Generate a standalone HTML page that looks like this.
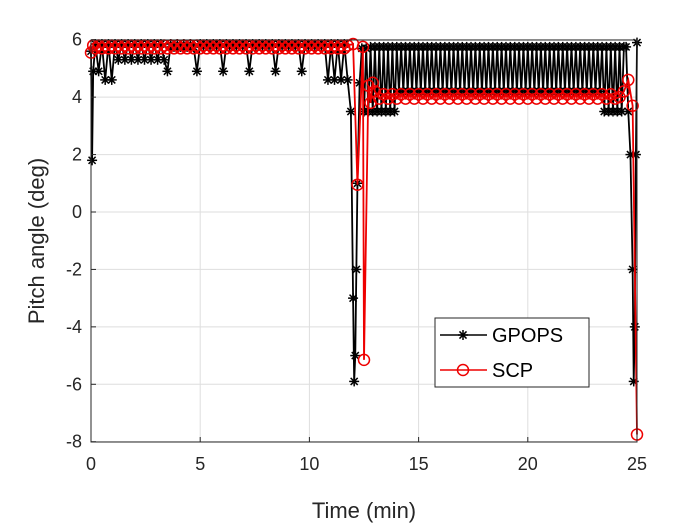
<!DOCTYPE html>
<html><head><meta charset="utf-8"><style>
html,body{margin:0;padding:0;background:#fff;}
svg text{font-family:"Liberation Sans",Arial,sans-serif;}
</style></head><body>
<svg id="chart" width="700" height="525" viewBox="0 0 700 525" xmlns="http://www.w3.org/2000/svg">
<rect width="700" height="525" fill="#fff"/>
<g id="grid"></g>
<g id="series"></g>
<rect x="91" y="40" width="546" height="402" fill="none" stroke="#262626" stroke-width="1"/>
<g id="ticks"></g>
<text x="364" y="518" font-size="22" text-anchor="middle" fill="#262626">Time (min)</text>
<text x="44" y="241" font-size="22" text-anchor="middle" fill="#262626" transform="rotate(-90 44 241)">Pitch angle (deg)</text>
<g>
<rect x="435" y="318" width="154" height="69" fill="#fff" stroke="#262626" stroke-width="1"/>
<g>
<line x1="440" y1="335" x2="487" y2="335" stroke="#000" stroke-width="1.5"/>
<g id="legmark1"></g>
<text x="492" y="342" font-size="20" fill="#000">GPOPS</text>
</g>
<g>
<line x1="440" y1="370" x2="487" y2="370" stroke="#e00" stroke-width="1.5"/>
<circle cx="463" cy="370" r="5.5" fill="none" stroke="#e00" stroke-width="1.5"/>
<text x="492" y="377" font-size="20" fill="#000">SCP</text>
</g>
</g>
</svg>
<script>
const xTicks=[0,5,10,15,20,25];
const yTicks=[-8,-6,-4,-2,0,2,4,6];
const gpopsT=[
0,0.05,0.1,0.2,0.35,0.5,0.65,0.8,0.95,1.1,
1.25,1.4,1.55,1.7,1.85,2.0,2.15,2.3,2.45,2.6,
2.75,2.9,3.05,3.2,3.35,3.5,3.65,3.8,3.95,4.1,
4.25,4.4,4.55,4.7,4.85,5.0,5.15,5.3,5.45,5.6,
5.75,5.9,6.05,6.2,6.35,6.5,6.65,6.8,6.95,7.1,
7.25,7.4,7.55,7.7,7.85,8.0,8.15,8.3,8.45,8.6,
8.75,8.9,9.05,9.2,9.35,9.5,9.65,9.8,9.95,10.1,
10.25,10.4,10.55,10.7,10.85,11.0,11.15,11.3,11.45,11.6,
11.75,
11.9,12.0,12.05,12.1,12.15,12.2,12.3,12.4,12.5,12.6,12.7,
12.8,12.9,13.0,13.1,13.2,13.3,13.4,13.5,13.6,13.7,
13.8,13.9,14.0,14.1,14.2,14.3,14.4,14.5,14.6,14.7,
14.8,14.9,15.0,15.1,15.2,15.3,15.4,15.5,15.6,15.7,
15.8,15.9,16.0,16.1,16.2,16.3,16.4,16.5,16.6,16.7,
16.8,16.9,17.0,17.1,17.2,17.3,17.4,17.5,17.6,17.7,
17.8,17.9,18.0,18.1,18.2,18.3,18.4,18.5,18.6,18.7,
18.8,18.9,19.0,19.1,19.2,19.3,19.4,19.5,19.6,19.7,
19.8,19.9,20.0,20.1,20.2,20.3,20.4,20.5,20.6,20.7,
20.8,20.9,21.0,21.1,21.2,21.3,21.4,21.5,21.6,21.7,
21.8,21.9,22.0,22.1,22.2,22.3,22.4,22.5,22.6,22.7,
22.8,22.9,23.0,23.1,23.2,23.3,23.4,23.5,23.6,23.7,
23.8,23.9,24.0,24.1,24.2,24.3,24.4,
24.5,24.6,24.7,24.8,24.85,24.9,24.95,25.0];
const gpopsY=[
5.6,1.8,4.9,5.85,4.9,5.85,4.6,5.85,4.6,5.85,
5.3,5.85,5.3,5.85,5.3,5.85,5.3,5.85,5.3,5.85,
5.3,5.85,5.3,5.85,5.3,4.9,5.85,5.75,5.85,5.75,
5.85,5.75,5.85,5.75,4.9,5.85,5.75,5.85,5.75,5.85,
5.75,5.85,4.9,5.85,5.75,5.85,5.75,5.85,5.75,5.85,
4.9,5.85,5.75,5.85,5.75,5.85,5.75,5.85,4.9,5.85,
5.75,5.85,5.75,5.85,5.75,5.85,4.9,5.85,5.75,5.85,
5.75,5.85,5.75,5.85,4.6,5.85,4.6,5.85,4.6,5.85,
4.6,
3.5,-3,-5.9,-5,-2,1,4.5,5.7,3.5,5.7,3.5,
5.75,3.5,5.75,3.5,5.75,3.5,5.75,3.5,5.75,3.5,
5.75,3.5,5.75,4.2,5.75,4.2,5.75,4.2,5.75,4.2,
5.75,4.2,5.75,4.2,5.75,4.2,5.75,4.2,5.75,4.2,
5.75,4.2,5.75,4.2,5.75,4.2,5.75,4.2,5.75,4.2,
5.75,4.2,5.75,4.2,5.75,4.2,5.75,4.2,5.75,4.2,
5.75,4.2,5.75,4.2,5.75,4.2,5.75,4.2,5.75,4.2,
5.75,4.2,5.75,4.2,5.75,4.2,5.75,4.2,5.75,4.2,
5.75,4.2,5.75,4.2,5.75,4.2,5.75,4.2,5.75,4.2,
5.75,4.2,5.75,4.2,5.75,4.2,5.75,4.2,5.75,4.2,
5.75,4.2,5.75,4.2,5.75,4.2,5.75,4.2,5.75,4.2,
5.75,4.2,5.75,4.2,5.75,4.2,5.75,3.5,5.75,3.5,
5.75,3.5,5.75,3.5,5.75,3.5,5.75,
5.75,3.5,2,-2,-5.9,-4,2,5.9];
const scpT=[0,0.1,0.2,0.35,0.5,0.65,0.8,0.95,1.1,1.25,1.4,1.55,1.7,1.85,2.0,2.15,2.3,2.45,2.6,2.75,2.9,3.05,3.2,3.35,3.5,3.65,3.8,3.95,4.1,4.25,4.4,4.55,4.7,4.85,5.0,5.15,5.3,5.45,5.6,5.75,5.9,6.05,6.2,6.35,6.5,6.65,6.8,6.95,7.1,7.25,7.4,7.55,7.7,7.85,8.0,8.15,8.3,8.45,8.6,8.75,8.9,9.05,9.2,9.35,9.5,9.65,9.8,9.95,10.1,10.25,10.4,10.55,10.7,10.85,11.0,11.15,11.3,11.45,11.6,11.75,
12.0,12.2,12.45,12.5,12.7,12.8,12.9,13.0,
13.2,13.4,13.6,13.8,14.0,14.2,14.4,14.6,14.8,15.0,15.2,15.4,15.6,15.8,16.0,16.2,16.4,16.6,16.8,17.0,17.2,17.4,17.6,17.8,18.0,18.2,18.4,18.6,18.8,19.0,19.2,19.4,19.6,19.8,20.0,20.2,20.4,20.6,20.8,21.0,21.2,21.4,21.6,21.8,22.0,22.2,22.4,22.6,22.8,23.0,23.2,23.4,23.6,23.8,24.0,
24.2,24.4,24.6,24.8,25.0];
const scpY=[5.55,
5.8,5.7,5.8,5.7,5.8,5.7,5.8,5.7,5.8,5.7,
5.8,5.7,5.8,5.7,5.8,5.7,5.8,5.7,5.8,5.7,
5.8,5.7,5.8,5.7,5.8,5.7,5.8,5.7,5.8,5.7,
5.8,5.7,5.8,5.7,5.8,5.7,5.8,5.7,5.8,5.7,
5.8,5.7,5.8,5.7,5.8,5.7,5.8,5.7,5.8,5.7,
5.8,5.7,5.8,5.7,5.8,5.7,5.8,5.7,5.8,5.7,
5.8,5.7,5.8,5.7,5.8,5.7,5.8,5.7,5.8,5.7,
5.8,5.7,5.8,5.7,5.8,5.7,5.8,5.7,5.8,
5.85,0.95,5.75,-5.15,4.4,3.8,4.5,4.2,
3.95,4.1,3.95,4.1,3.95,4.1,3.95,4.1,3.95,4.1,
3.95,4.1,3.95,4.1,3.95,4.1,3.95,4.1,3.95,4.1,
3.95,4.1,3.95,4.1,3.95,4.1,3.95,4.1,3.95,4.1,
3.95,4.1,3.95,4.1,3.95,4.1,3.95,4.1,3.95,4.1,
3.95,4.1,3.95,4.1,3.95,4.1,3.95,4.1,3.95,4.1,
3.95,4.1,3.95,4.1,3.95,
4.0,4.2,4.6,3.7,-7.75];
const NS='http://www.w3.org/2000/svg';
function xs(t){return 91+t*(546/25);}
function ys(v){return 212-v*(402/14);}
function mk(tag,attrs,parent){const e=document.createElementNS(NS,tag);for(const k in attrs)e.setAttribute(k,attrs[k]);parent.appendChild(e);return e;}
const grid=document.getElementById('grid'),ticks=document.getElementById('ticks'),ser=document.getElementById('series');
xTicks.forEach(t=>{
 const l=mk('line',{x1:xs(t),x2:xs(t),y1:40,y2:442,stroke:'#dedede','stroke-width':1},grid);
 
 
 mk('line',{x1:xs(t),x2:xs(t),y1:442,y2:437,stroke:'#262626'},ticks);
 const tx=mk('text',{x:xs(t),y:470,'font-size':18,'text-anchor':'middle',fill:'#262626'},ticks);
 tx.textContent=t;
 
 
});
yTicks.forEach(v=>{
 const l=mk('line',{x1:91,x2:637,y1:ys(v),y2:ys(v),stroke:'#dedede','stroke-width':1},grid);
 
 
 mk('line',{x1:91,x2:96,y1:ys(v),y2:ys(v),stroke:'#262626'},ticks);
 const tx=mk('text',{x:82,y:ys(v)+6,'font-size':18,'text-anchor':'end',fill:'#262626'},ticks);
 tx.textContent=v;
 
 
});
function star(cx,cy,p){const g=mk('g',{stroke:'#000','stroke-width':1.5},p);for(let a=0;a<4;a++){const an=a*Math.PI/4;mk('line',{x1:cx-5*Math.cos(an),y1:cy-5*Math.sin(an),x2:cx+5*Math.cos(an),y2:cy+5*Math.sin(an)},g);}return g;}
const gl=mk('polyline',{points:gpopsT.map((t,i)=>xs(t)+','+ys(gpopsY[i])).join(' '),fill:'none',stroke:'#000','stroke-width':1.8},ser);


const gm=mk('g',{},ser);


gpopsT.forEach((t,i)=>star(xs(t),ys(gpopsY[i]),gm));
const sl=mk('polyline',{points:scpT.map((t,i)=>xs(t)+','+ys(scpY[i])).join(' '),fill:'none',stroke:'#e00','stroke-width':1.8},ser);


const sm=mk('g',{},ser);


scpT.forEach((t,i)=>mk('circle',{cx:xs(t),cy:ys(scpY[i]),r:5.5,fill:'none',stroke:'#e00','stroke-width':1.5},sm));
star(463,335,document.getElementById('legmark1'));
</script>
</body></html>
